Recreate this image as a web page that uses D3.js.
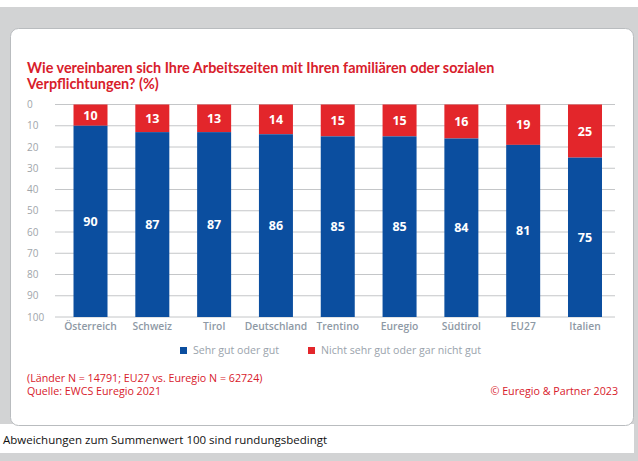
<!DOCTYPE html>
<html>
<head>
<meta charset="utf-8">
<script src="https://cdn.jsdelivr.net/npm/d3@7"></script>
<style>
body { margin: 0; background: #d2d3d4; }
svg { display: block; font-family: 'Open Sans', sans-serif; }
</style>
</head>
<body>
<script>
const categories = ['Österreich', 'Schweiz', 'Tirol', 'Deutschland', 'Trentino', 'Euregio', 'Südtirol', 'EU27', 'Italien']
const good = [90, 87, 87, 86, 85, 85, 84, 81, 75]
const notGood = [10, 13, 13, 14, 15, 15, 16, 19, 25]
const yTicks = [0, 10, 20, 30, 40, 50, 60, 70, 80, 90, 100]
const seriesNames = ['Sehr gut oder gut', 'Nicht sehr gut oder gar nicht gut']
const titleLines = ['Wie vereinbaren sich Ihre Arbeitszeiten mit Ihren familiären oder sozialen', 'Verpflichtungen? (%)']
const noteLines = ['(Länder N = 14791; EU27 vs. Euregio N = 62724)', 'Quelle: EWCS Euregio 2021']

const blue = '#0b4e9f'
const red = '#e3262b'
const W = 638, H = 461

const svg = d3.select('body')
	.append('svg')
	.attr('width', W)
	.attr('height', H)

// backgrounds
svg.append('rect').attr('width', W).attr('height', H).attr('fill', '#d2d3d4')
svg.append('rect').attr('width', W).attr('height', 7).attr('fill', '#fff')
svg.append('rect').attr('x', 0).attr('y', 424).attr('width', 634).attr('height', 29).attr('fill', '#fff')
svg.append('rect')
	.attr('x', 10.5).attr('y', 28.5)
	.attr('width', 623).attr('height', 397)
	.attr('rx', 8)
	.attr('fill', '#fff')
	.attr('stroke', '#b9bcbf')

// title
svg.append('g')
	.selectAll('text')
	.data(titleLines)
	.enter()
	.append('text')
	.attr('x', 27)
	.attr('y', (d, i) => 73 + i * 16)
	.attr('fill', '#d8202b')
	.attr('font-family', 'Lato, sans-serif')
	.attr('font-weight', 'bold')
	.attr('font-size', 14.4)
	.text(d => d)

const x = d3.scaleBand()
	.domain(categories)
	.range([59.6, 615.9])
	.paddingInner(0.45)
	.paddingOuter(0.225)

const y = d3.scaleLinear()
	.domain([0, 100])
	.range([104.5, 317])

// gridlines
svg.append('g')
	.selectAll('line')
	.data(yTicks)
	.enter()
	.append('line')
	.attr('x1', 55)
	.attr('x2', 615)
	.attr('y1', d => y(d))
	.attr('y2', d => y(d))
	.attr('stroke', '#c4c6c8')
	.attr('stroke-width', 1)

// y labels
svg.append('g')
	.selectAll('text')
	.data(yTicks)
	.enter()
	.append('text')
	.attr('x', 27)
	.attr('y', d => y(d) + 3.5)
	.attr('font-size', 10)
	.attr('fill', '#a0a5aa')
	.text(d => d)

// bars
const bars = svg.append('g')
	.selectAll('g')
	.data(categories)
	.enter()
	.append('g')

bars.append('rect')
	.attr('x', d => x(d))
	.attr('width', x.bandwidth())
	.attr('y', y(0))
	.attr('height', (d, i) => y(notGood[i]) - y(0))
	.attr('fill', red)

bars.append('rect')
	.attr('x', d => x(d))
	.attr('width', x.bandwidth())
	.attr('y', (d, i) => y(100 - good[i]))
	.attr('height', (d, i) => y(100) - y(100 - good[i]))
	.attr('fill', blue)

bars.append('text')
	.attr('x', d => x(d) + x.bandwidth() / 2)
	.attr('y', (d, i) => (y(0) + y(notGood[i])) / 2 + 4.5)
	.attr('text-anchor', 'middle')
	.attr('font-size', 12.5)
	.attr('font-weight', 'bold')
	.attr('fill', '#fff')
	.text((d, i) => notGood[i])

bars.append('text')
	.attr('x', d => x(d) + x.bandwidth() / 2)
	.attr('y', (d, i) => (y(100 - good[i]) + y(100)) / 2 + 4.5)
	.attr('text-anchor', 'middle')
	.attr('font-size', 12.5)
	.attr('font-weight', 'bold')
	.attr('fill', '#fff')
	.text((d, i) => good[i])

// category labels
svg.append('g')
	.selectAll('text')
	.data(categories)
	.enter()
	.append('text')
	.attr('x', d => x(d) + x.bandwidth() / 2)
	.attr('y', 330)
	.attr('text-anchor', 'middle')
	.attr('font-size', 10.3)
	.attr('font-weight', 600)
	.attr('fill', '#8e99a5')
	.text(d => d)

// legend
const legend = svg.append('g')
	.selectAll('g')
	.data(seriesNames)
	.enter()
	.append('g')
	.attr('transform', (d, i) => `translate(${[180, 308][i]},347)`)

legend.append('rect')
	.attr('width', 7)
	.attr('height', 7)
	.attr('fill', (d, i) => [blue, red][i])

legend.append('text')
	.attr('x', 13)
	.attr('y', 7)
	.attr('font-size', 10.6)
	.attr('fill', '#9aa3ac')
	.text(d => d)

// notes
svg.append('g')
	.selectAll('text')
	.data(noteLines)
	.enter()
	.append('text')
	.attr('x', 27)
	.attr('y', (d, i) => 382 + i * 13)
	.attr('fill', '#d8202b')
	.attr('font-size', 10.7)
	.text(d => d)

svg.append('text')
	.attr('x', 618)
	.attr('y', 395)
	.attr('text-anchor', 'end')
	.attr('fill', '#d8202b')
	.attr('font-size', 10.7)
	.text('© Euregio & Partner 2023')

svg.append('text')
	.attr('x', 3)
	.attr('y', 444)
	.attr('fill', '#111')
	.attr('font-size', 11.5)
	.text('Abweichungen zum Summenwert 100 sind rundungsbedingt')
</script>
</body>
</html>
